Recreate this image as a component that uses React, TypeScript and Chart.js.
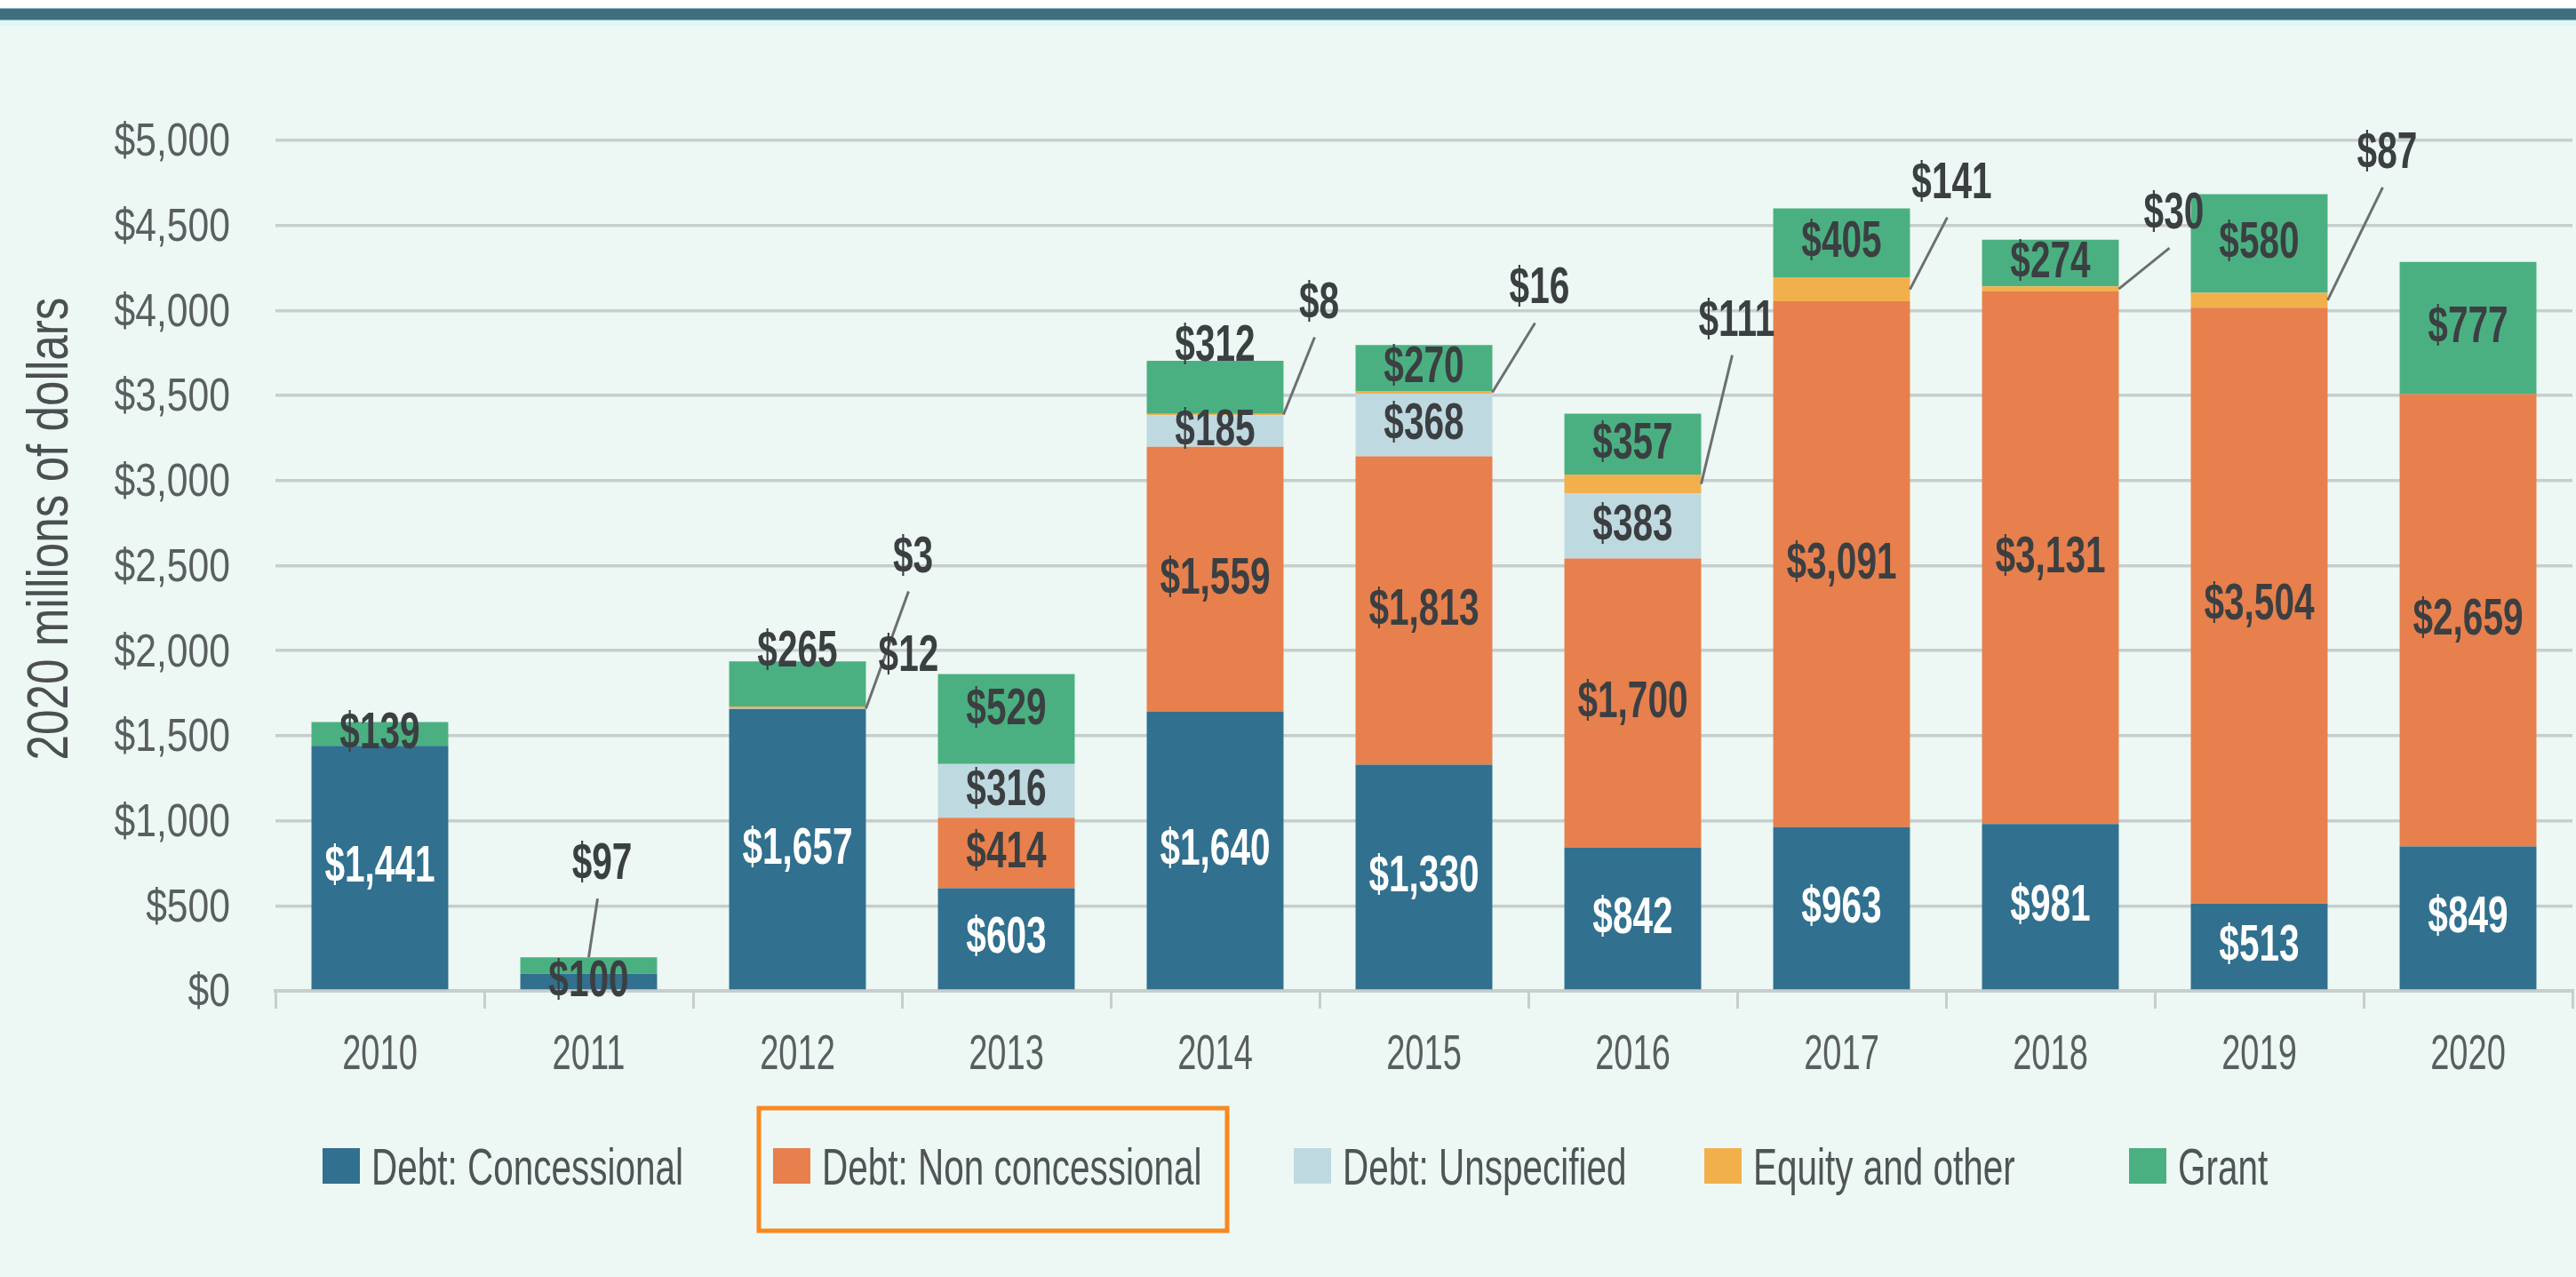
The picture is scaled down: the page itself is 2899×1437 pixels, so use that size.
import React, { useEffect, useRef } from "react";
import { Chart, registerables } from "chart.js";

Chart.register(...registerables);

// ---------- data ----------
const YEARS = ["2010", "2011", "2012", "2013", "2014", "2015", "2016", "2017", "2018", "2019", "2020"];
const DEBT_CONCESSIONAL = [1441, 100, 1657, 603, 1640, 1330, 842, 963, 981, 513, 849];
const DEBT_NON_CONCESSIONAL = [0, 0, 0, 414, 1559, 1813, 1700, 3091, 3131, 3504, 2659];
const DEBT_UNSPECIFIED = [0, 0, 3, 316, 185, 368, 383, 0, 0, 0, 0];
const EQUITY_OTHER = [0, 0, 12, 0, 8, 16, 111, 141, 30, 87, 0];
const GRANT = [139, 97, 265, 529, 312, 270, 357, 405, 274, 580, 777];
const SERIES_NAMES = ["Debt: Concessional", "Debt: Non concessional", "Debt: Unspecified", "Equity and other", "Grant"];
const Y_TICKS = [0, 500, 1000, 1500, 2000, 2500, 3000, 3500, 4000, 4500, 5000];
const Y_TITLE = "2020 millions of dollars";

// ---------- styles ----------
const COLORS = ["#31708f", "#e7804c", "#bfd9e0", "#f2b04d", "#4bb081"];
const BG = "#edf8f4";
const GRID = "#c8cdcd";
const TEXT = "#5a5e60";
const LABEL_DARK = "#3b3f42";
const FONT = '"Liberation Sans", Arial, sans-serif';

// values shown with a leader line / offset label instead of inside the bar
const CALLOUTS = [
  { year: 1, series: 4, anchor: "top", dx: 15, dy: -104, line: true },
  { year: 2, series: 2, anchor: "right", dx: 53, dy: -170, line: true },
  { year: 2, series: 3, anchor: "right", dx: 48, dy: -57, line: false },
  { year: 4, series: 3, anchor: "right", dx: 40, dy: -125, line: true },
  { year: 5, series: 3, anchor: "right", dx: 53, dy: -116, line: true },
  { year: 6, series: 3, anchor: "right", dx: 40, dy: -183, line: true },
  { year: 7, series: 3, anchor: "right", dx: 47, dy: -119, line: true },
  { year: 8, series: 3, anchor: "right", dx: 62, dy: -84, line: true },
  { year: 9, series: 3, anchor: "right", dx: 67, dy: -165, line: true },
];
// vertical nudges (px) for in-bar labels
const LABEL_NUDGES = [
  { year: 2, series: 4, dy: -36 },
  { year: 3, series: 4, dy: -10 },
  { year: 4, series: 4, dy: -46 },
];
const LEGEND_X = [363, 870, 1456, 1918, 2396];
const LEGEND_Y = 1292;

const fmt = (v: number) => "$" + v.toLocaleString("en-US");

function drawText(
  ctx: CanvasRenderingContext2D,
  text: string,
  x: number,
  y: number,
  size: number,
  weight: string,
  color: string,
  sx: number,
  align: CanvasTextAlign = "center",
  baseline: CanvasTextBaseline = "middle",
  rotate = 0
) {
  ctx.save();
  ctx.font = `${weight} ${size}px ${FONT}`;
  ctx.fillStyle = color;
  ctx.textAlign = align;
  ctx.textBaseline = baseline;
  ctx.translate(x, y);
  if (rotate) ctx.rotate(rotate);
  ctx.scale(sx, 1);
  ctx.fillText(text, 0, 0);
  ctx.restore();
}

const backgroundPlugin = {
  id: "bgPlugin",
  beforeDraw(chart: any) {
    const ctx = chart.ctx as CanvasRenderingContext2D;
    ctx.save();
    ctx.fillStyle = "#ffffff";
    ctx.fillRect(0, 0, chart.width, chart.height);
    ctx.fillStyle = BG;
    ctx.fillRect(0, 22, chart.width, chart.height - 22);
    ctx.fillStyle = "#def7f5";
    ctx.fillRect(0, 22, chart.width, 7);
    ctx.fillStyle = "#8db4bd";
    ctx.fillRect(0, 9, chart.width, 14);
    ctx.fillStyle = "#3f6f7f";
    ctx.fillRect(0, 10, chart.width, 12);
    ctx.restore();
  },
};

const labelsPlugin = {
  id: "labelsPlugin",
  afterDatasetsDraw(chart: any) {
    const ctx = chart.ctx as CanvasRenderingContext2D;
    const isCallout = (s: number, y: number) => CALLOUTS.some((c) => c.series === s && c.year === y);
    chart.data.datasets.forEach((ds: any, s: number) => {
      const meta = chart.getDatasetMeta(s);
      meta.data.forEach((bar: any, i: number) => {
        const v = ds.data[i];
        if (!v || isCallout(s, i)) return;
        const nudge = LABEL_NUDGES.find((n) => n.series === s && n.year === i);
        const cy = (bar.y + bar.base) / 2 + (nudge ? nudge.dy : 0);
        const white = s === 0 && v >= 300;
        drawText(ctx, fmt(v), bar.x, cy, 58, "bold", white ? "#ffffff" : LABEL_DARK, 0.7);
      });
    });
    CALLOUTS.forEach((c) => {
      const bar: any = chart.getDatasetMeta(c.series).data[c.year];
      const v = chart.data.datasets[c.series].data[c.year];
      let ax: number, ay: number;
      if (c.anchor === "top") {
        ax = bar.x;
        ay = bar.y;
      } else {
        ax = bar.x + bar.width / 2;
        ay = (bar.y + bar.base) / 2;
      }
      const lx = ax + c.dx;
      const ly = ay + c.dy;
      if (c.line) {
        ctx.save();
        ctx.strokeStyle = "#6d6f70";
        ctx.lineWidth = 3;
        ctx.beginPath();
        ctx.moveTo(ax, ay);
        ctx.lineTo(lx - 5, ly + 38);
        ctx.stroke();
        ctx.restore();
      }
      drawText(ctx, fmt(v), lx, ly, 58, "bold", LABEL_DARK, 0.7);
    });
  },
  afterDraw(chart: any) {
    const ctx = chart.ctx as CanvasRenderingContext2D;
    const xs = chart.scales.x;
    const ys = chart.scales.y;
    // y tick labels
    Y_TICKS.forEach((t) => {
      drawText(ctx, fmt(t), chart.chartArea.left - 51, ys.getPixelForValue(t) + 3, 52, "normal", TEXT, 0.82, "right");
    });
    // x category labels
    YEARS.forEach((yr, i) => {
      drawText(ctx, yr, xs.getPixelForValue(i), 1188, 56, "normal", TEXT, 0.68);
    });
    // y axis title
    drawText(ctx, Y_TITLE, 58, 595, 64, "normal", "#4b4f51", 0.8, "center", "middle", -Math.PI / 2);
    // legend
    SERIES_NAMES.forEach((name, i) => {
      const x = LEGEND_X[i];
      ctx.save();
      ctx.fillStyle = COLORS[i];
      ctx.fillRect(x, LEGEND_Y, 42, 40);
      ctx.restore();
      drawText(ctx, name, x + 55, LEGEND_Y + 41, 57, "normal", "#505456", 0.71, "left", "alphabetic");
    });
    // highlight box around "Debt: Non concessional"
    ctx.save();
    ctx.strokeStyle = "#f9881f";
    ctx.lineWidth = 5;
    ctx.strokeRect(854, 1247, 527, 138);
    ctx.restore();
  },
};

export default function App() {
  const ref = useRef<HTMLCanvasElement>(null);

  useEffect(() => {
    const canvas = ref.current;
    if (!canvas) return;
    const series = [DEBT_CONCESSIONAL, DEBT_NON_CONCESSIONAL, DEBT_UNSPECIFIED, EQUITY_OTHER, GRANT];
    const chart = new Chart(canvas, {
      type: "bar",
      data: {
        labels: YEARS,
        datasets: series.map((d, i) => ({
          label: SERIES_NAMES[i],
          data: d,
          backgroundColor: COLORS[i],
          borderWidth: 0,
          barPercentage: 0.655,
          categoryPercentage: 1,
        })),
      },
      options: {
        animation: false,
        responsive: false,
        devicePixelRatio: 1,
        layout: { padding: { left: 0, right: 4, top: 158, bottom: 0 } },
        plugins: { legend: { display: false }, tooltip: { enabled: false }, title: { display: false } },
        scales: {
          x: {
            stacked: true,
            grid: { drawOnChartArea: false, drawTicks: true, tickLength: 20, color: GRID, lineWidth: 3, offset: true },
            border: { display: true, color: GRID, width: 4 },
            ticks: { display: false },
            afterFit: (s: any) => {
              s.height = 322;
            },
          },
          y: {
            stacked: true,
            min: Y_TICKS[0],
            max: Y_TICKS[Y_TICKS.length - 1],
            ticks: { stepSize: Y_TICKS[1] - Y_TICKS[0], display: false },
            grid: { color: GRID, lineWidth: 3.5, drawTicks: false },
            border: { display: false },
            afterFit: (s: any) => {
              s.width = 310;
            },
          },
        },
      },
      plugins: [backgroundPlugin, labelsPlugin],
    } as any);
    return () => chart.destroy();
  }, []);

  return (
    <div style={{ position: "fixed", left: 0, top: 0, width: 2899, height: 1437, background: BG }}>
      <canvas ref={ref} width={2899} height={1437} style={{ width: 2899, height: 1437, display: "block" }} />
    </div>
  );
}
